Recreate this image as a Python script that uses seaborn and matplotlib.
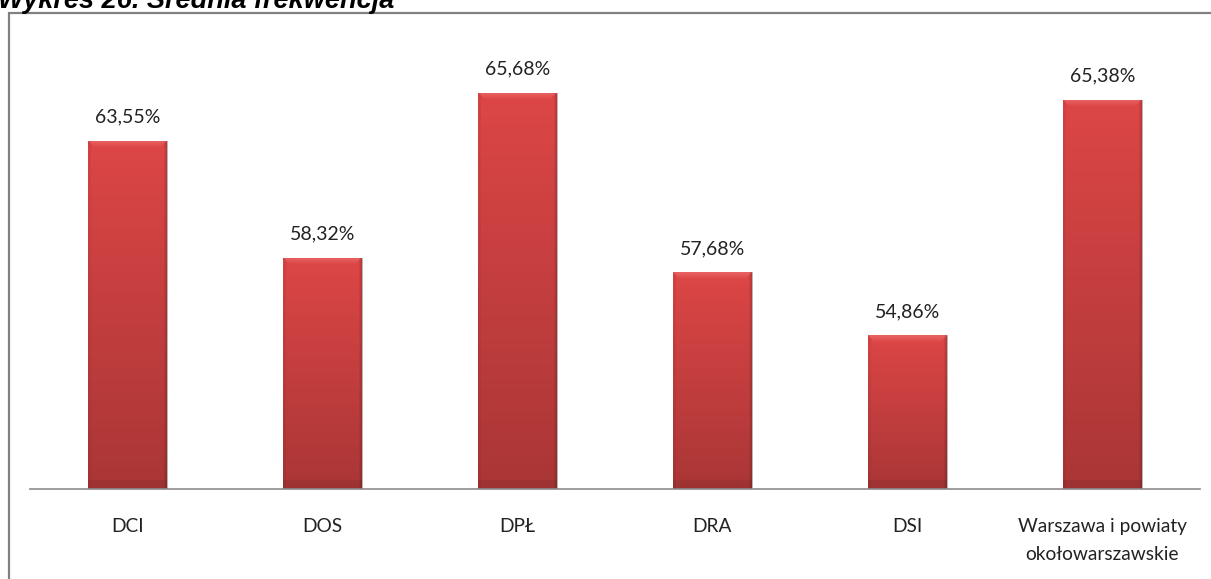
import numpy as np
import pandas as pd
import matplotlib
matplotlib.use("Agg")
import matplotlib.pyplot as plt
import matplotlib.patches as mpatches
from matplotlib.colors import to_rgb
import seaborn as sns

categories = ["DCI", "DOS", "DPŁ", "DRA", "DSI", "Warszawa i powiaty\nokołowarszawskie"]
values = [63.55, 58.32, 65.68, 57.68, 54.86, 65.38]
value_labels = ["63,55%", "58,32%", "65,68%", "57,68%", "54,86%", "65,38%"]
title = "Wykres 26. Średnia frekwencja"

Y0 = 48.0

sns.set_theme(style="white")
plt.rcParams["font.family"] = ["Lato", "DejaVu Sans"]

W, H, DPI = 1211, 579, 100
fig = plt.figure(figsize=(W / DPI, H / DPI), dpi=DPI)
fig.patch.set_facecolor("white")

ax = fig.add_axes([30 / W, 90 / H, 1170 / W, 477 / H])
df = pd.DataFrame({"cat": categories, "val": values})
sns.barplot(data=df, x="cat", y="val", color="#D44040", width=0.405,
            ax=ax, saturation=1, edgecolor="none", zorder=2)

ax.set_xlim(-0.5, len(categories) - 0.5)
ax.set_ylim(Y0, Y0 + 477 / 22.4)
ax.set_xlabel("")
ax.set_ylabel("")
ax.set_yticks([])
for s in ["left", "right", "top"]:
    ax.spines[s].set_visible(False)
ax.spines["bottom"].set_color("#8c8c8c")
ax.spines["bottom"].set_linewidth(1.2)
ax.spines["bottom"].set_zorder(5)
ax.tick_params(axis="x", length=0, pad=21, labelsize=13.8, labelcolor="#222222")
for lab in ax.get_xticklabels():
    lab.set_linespacing(1.75)
ax.patch.set_alpha(0)

# start each bar at the visible axis floor
for p in ax.patches:
    top = p.get_y() + p.get_height()
    p.set_y(Y0)
    p.set_height(top - Y0)

# gradient fill clipped to each bar
fig.canvas.draw()
top_c = np.array(to_rgb("#DD4646"))
bot_c = np.array(to_rgb("#AA3636"))
hi_c = np.array(to_rgb("#EE6C6C"))
for p in ax.patches:
    x0, y0 = p.get_x(), p.get_y()
    w, h = p.get_width(), p.get_height()
    (px0, py0) = ax.transData.transform((x0, y0))
    (px1, py1) = ax.transData.transform((x0 + w, y0 + h))
    nx = max(int(round(px1 - px0)), 2)
    ny = max(int(round(py1 - py0)), 2)
    t = np.linspace(0, 1, ny)[:, None]
    img = top_c[None, None, :] * (1 - t[..., None]) + bot_c[None, None, :] * t[..., None]
    img = np.repeat(img, nx, axis=1)
    bev = 7
    for r in range(min(bev, ny)):
        f = 1 - r / bev
        for c in range(nx):
            d = min(c, nx - 1 - c)
            if d >= r:
                img[r, c] = img[r, c] * (1 - 0.75 * f) + hi_c * 0.75 * f
    nb = min(9, ny)
    img[-nb:] *= 0.93
    for c in range(min(3, nx)):
        img[:, nx - 1 - c] *= 0.84 + 0.05 * c
        img[:, c] *= 0.95
    img = np.clip(img, 0, 1)
    im = ax.imshow(img, extent=[x0, x0 + w, y0, y0 + h], aspect="auto",
                   zorder=3, interpolation="bilinear")
    im.set_clip_path(p)
    p.set_edgecolor("#B8B8B8")
    p.set_linewidth(0.6)

ax.set_xlim(-0.5, len(categories) - 0.5)
ax.set_ylim(Y0, Y0 + 477 / 22.4)

ax.bar_label(ax.containers[0], labels=value_labels, padding=11,
             fontsize=14, color="#222222", zorder=6)

# outer frame
frame = mpatches.Rectangle((8.5 / W, -0.05), 1.2, 1 - 12.5 / H + 0.05,
                           transform=fig.transFigure, fill=False,
                           edgecolor="#808080", linewidth=1.6, zorder=0)
fig.patches.append(frame)

fig.text(-2 / W, 1 - 7.5 / H, title, fontsize=19.5, fontweight="bold",
         fontstyle="italic", family=["Liberation Sans", "DejaVu Sans"],
         ha="left", va="baseline", color="black")

fig.savefig("out.png", dpi=DPI)
